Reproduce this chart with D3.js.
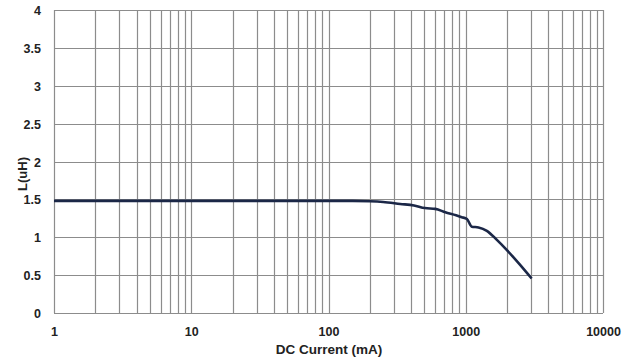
<!DOCTYPE html>
<html>
<head>
<meta charset="utf-8">
<script src="https://cdn.jsdelivr.net/npm/d3@7"></script>
<style>
  body { margin: 0; background: #fff; }
  svg text { font-family: Arial, "Liberation Sans", sans-serif; font-weight: bold; fill: #222; }
</style>
</head>
<body>
<svg id="chart" width="630" height="361"></svg>
<script>
// inductance vs dc current
const current = [1, 10, 100, 150, 200, 250, 333, 420, 504, 600, 710, 850, 935, 1020, 1107, 1238, 1425, 1686, 1995, 2490, 3020];
const inductance = [1.48, 1.48, 1.48, 1.48, 1.475, 1.465, 1.44, 1.42, 1.385, 1.375, 1.33, 1.29, 1.265, 1.24, 1.14, 1.13, 1.085, 0.965, 0.83, 0.635, 0.455];
const xTicks = [1, 10, 100, 1000, 10000];
const yTicks = [0, 0.5, 1, 1.5, 2, 2.5, 3, 3.5, 4];

const svg = d3.select("#chart");
// plot area
const plotLeft = 54, plotRight = 603, plotTop = 10, plotBottom = 313;

const x = d3.scaleLog().domain([1, 10000]).range([plotLeft, plotRight]);
const y = d3.scaleLinear().domain([0, 4]).range([plotBottom, plotTop]);

// minor + major vertical grid lines (1..9 in each decade)
let vlines = [];
for (let d = 1; d < 10000; d *= 10) {
    for (let k = 1; k < 10; k++) vlines.push(d * k);
}
vlines.push(10000);

const grid = svg.append("g").attr("stroke", "#8c8c8c").attr("stroke-width", 1.2);
grid.selectAll(".v").data(vlines).join("line").attr("class", "v")
    .attr("x1", d => Math.round(x(d)) + 0.5).attr("x2", d => Math.round(x(d)) + 0.5)
    .attr("y1", plotTop).attr("y2", plotBottom);
grid.selectAll(".h").data(yTicks).join("line").attr("class", "h")
    .attr("x1", plotLeft).attr("x2", plotRight)
    .attr("y1", d => Math.round(y(d)) + 0.5).attr("y2", d => Math.round(y(d)) + 0.5);

// axes, only labels
const yAxis = svg.append("g").attr("transform", `translate(${plotLeft - 10},0)`)
    .call(d3.axisLeft(y).tickValues(yTicks).tickSize(0).tickFormat(d3.format("")));
yAxis.select(".domain").remove();
yAxis.selectAll("text").style("font-size", "12.5px").attr("dy", "0.36em");

const xAxis = svg.append("g").attr("transform", `translate(0,${plotBottom + 11})`)
    .call(d3.axisBottom(x).tickValues(xTicks).tickSize(0).tickFormat(d3.format("")));
xAxis.select(".domain").remove();
xAxis.selectAll("text").style("font-size", "12.5px");

// titles
svg.append("text").attr("x", 329).attr("y", 354)
    .attr("text-anchor", "middle").style("font-size", "13.5px").text("DC Current (mA)");
svg.append("text").attr("transform", `translate(27,174) rotate(-90)`)
    .attr("text-anchor", "middle").style("font-size", "13px").text("L(uH)");

// the curve
const line = d3.line().x(d => x(d[0])).y(d => y(d[1])).curve(d3.curveMonotoneX);
svg.append("path").datum(d3.zip(current, inductance))
    .attr("fill", "none").attr("stroke", "#1b2747").attr("stroke-width", 2.6)
    .attr("stroke-linejoin", "round").attr("d", line);
</script>
</body>
</html>
